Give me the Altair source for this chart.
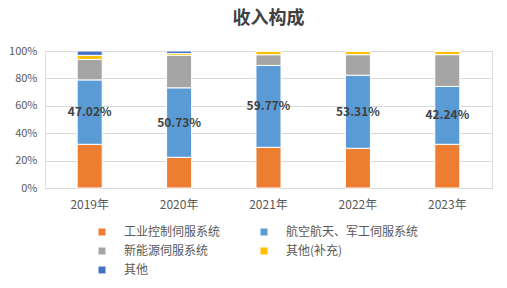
import altair as alt
import pandas as pd

years = ["2019年", "2020年", "2021年", "2022年", "2023年"]
series = ["工业控制伺服系统", "航空航天、军工伺服系统", "新能源伺服系统", "其他(补充)", "其他"]
colors = ["#ED7D31", "#5B9BD5", "#A5A5A5", "#FFC000", "#4472C4"]

industrial = [31.9, 22.4, 29.7, 29.0, 31.9]
aerospace = [47.02, 50.73, 59.77, 53.31, 42.24]
new_energy = [14.9, 23.7, 7.8, 15.0, 23.2]
other_sup = [3.0, 1.3, 2.73, 2.69, 2.66]
other = [3.18, 1.87, 0.0, 0.0, 0.0]

values = [industrial, aerospace, new_energy, other_sup, other]
rows = []
for si, (s, vals) in enumerate(zip(series, values)):
    for y, v in zip(years, vals):
        rows.append({"year": y, "series": s, "value": v / 100.0, "order": si})
df = pd.DataFrame(rows)

lab = pd.DataFrame({
    "year": years,
    "mid": [(a + b / 2) / 100.0 for a, b in zip(industrial, aerospace)],
    "label": [f"{b:.2f}%" for b in aerospace],
})

font = "Noto Sans CJK SC"

x_axis = alt.Axis(labelAngle=0, labelColor="#595959", labelFontSize=12, labelFont=font,
                  domainColor="#D9D9D9", ticks=False, labelPadding=11, grid=False)
y_axis = alt.Axis(format=".0%", values=[0, 0.2, 0.4, 0.6, 0.8, 1.0],
                  labelColor="#595959", labelFontSize=11, labelFont=font,
                  labelOverlap=False, grid=True,
                  gridColor="#D9D9D9", domain=False, ticks=False, labelPadding=8)
x_scale = alt.Scale(paddingInner=0.72, paddingOuter=0.36)
y_scale = alt.Scale(domain=[0, 1])

bars = alt.Chart(df).mark_bar(stroke="white", strokeWidth=1).encode(
    x=alt.X("year:N", sort=years, title=None, scale=x_scale, axis=x_axis),
    y=alt.Y("value:Q", stack="zero", title=None, scale=y_scale, axis=y_axis),
    color=alt.Color("series:N", sort=series,
                    scale=alt.Scale(domain=series, range=colors),
                    legend=alt.Legend(title=None, orient="none", legendX=51, legendY=175,
                                      direction="horizontal",
                                      columns=2, symbolType="square", symbolSize=49,
                                      symbolStrokeWidth=0, labelFontSize=12, labelFont=font,
                                      labelColor="#595959", labelOffset=16, columnPadding=37,
                                      rowPadding=7, labelLimit=200)),
    order=alt.Order("order:Q", sort="ascending"),
)

text = alt.Chart(lab).mark_text(fontSize=12, fontWeight="bold", color="#404040", font=font).encode(
    x=alt.X("year:N", sort=years, title=None, scale=x_scale, axis=x_axis),
    y=alt.Y("mid:Q", title=None, scale=y_scale, axis=y_axis),
    text="label:N",
)

chart = (bars + text).properties(
    width=447, height=137,
    title=alt.TitleParams("收入构成", fontSize=18, fontWeight="bold", color="#404040",
                          font=font, anchor="middle", offset=17),
    padding={"left": 45, "top": 51, "right": 15, "bottom": 100},
    autosize=alt.AutoSizeParams(type="none"),
).configure_view(strokeWidth=0, stroke="transparent", fill="white").configure(background="white")

chart.save("out.html", embed_options={"renderer": "svg", "actions": False})
